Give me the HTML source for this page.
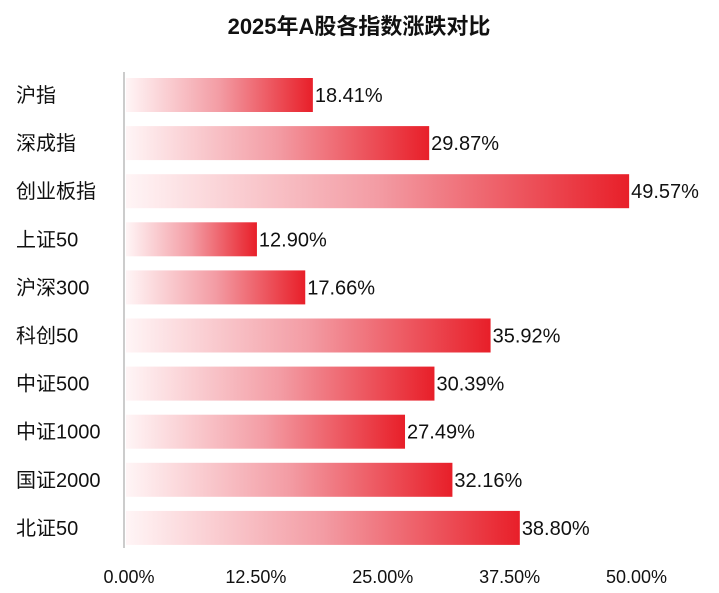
<!DOCTYPE html>
<html><head><meta charset="utf-8">
<style>
body{margin:0;background:#fff;width:719px;height:588px;overflow:hidden;font-family:"Liberation Sans","Noto Sans CJK SC",sans-serif;}
</style></head>
<body>
<svg width="719" height="588" xmlns="http://www.w3.org/2000/svg">
<defs>
<linearGradient id="g" x1="0" x2="1" y1="0" y2="0">
<stop offset="0" stop-color="#fff5f6"/>
<stop offset="0.5" stop-color="#f39ca4"/>
<stop offset="1" stop-color="#e81f29"/>
</linearGradient>
</defs>
<text x="359" y="34" text-anchor="middle" font-size="22" font-weight="bold" fill="#111" font-family="Liberation Sans,Noto Sans CJK SC,sans-serif">2025年A股各指数涨跌对比</text>
<line x1="124" y1="72" x2="124" y2="548" stroke="#999" stroke-width="1"/>
<g id="bars"></g>
<g id="ticks"></g>
</svg>
<script>
const categories=["沪指","深成指","创业板指","上证50","沪深300","科创50","中证500","中证1000","国证2000","北证50"];
const values=[18.41,29.87,49.57,12.90,17.66,35.92,30.39,27.49,32.16,38.80];
const tickValues=[0,12.5,25,37.5,50];
const NS="http://www.w3.org/2000/svg";
const x0=126, pxPer=10.15, y0=95, step=48.1, bh=34;
function xs(v){return x0+v*pxPer;}
function ys(i){return y0+i*step;}
const bars=document.getElementById('bars');
categories.forEach((c,i)=>{
  const t=document.createElementNS(NS,'text');
  
  
  t.setAttribute('x',16);t.setAttribute('y',ys(i)+7);
  t.setAttribute('font-size','20');t.setAttribute('fill','#111');
  t.textContent=c;bars.appendChild(t);
  const r=document.createElementNS(NS,'rect');
  
  
  r.setAttribute('x',x0);r.setAttribute('y',ys(i)-bh/2);
  r.setAttribute('width',xs(values[i])-x0);r.setAttribute('height',bh);
  r.setAttribute('fill','url(#g)');bars.appendChild(r);
  const v=document.createElementNS(NS,'text');
  
  
  v.setAttribute('x',xs(values[i])+2);v.setAttribute('y',ys(i)+7);
  v.setAttribute('font-size','20');v.setAttribute('fill','#111');
  v.textContent=values[i].toFixed(2)+'%';bars.appendChild(v);
});
const ticks=document.getElementById('ticks');
tickValues.forEach(tv=>{
  const t=document.createElementNS(NS,'text');
  
  
  t.setAttribute('x',xs(tv)+3);t.setAttribute('y',583);
  t.setAttribute('text-anchor','middle');
  t.setAttribute('font-size','18');t.setAttribute('fill','#111');
  t.textContent=tv.toFixed(2)+'%';ticks.appendChild(t);
});
</script>
</body></html>
